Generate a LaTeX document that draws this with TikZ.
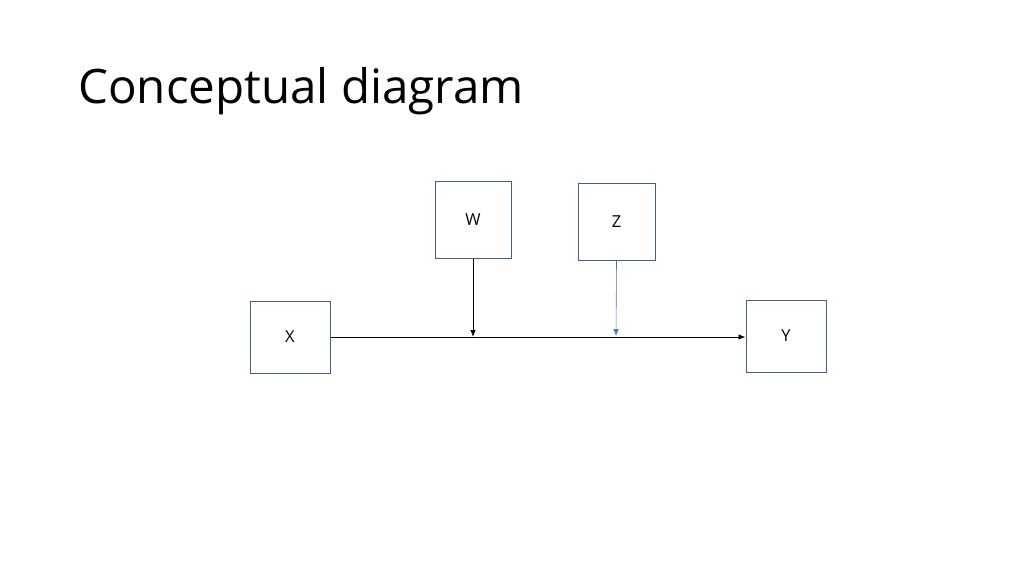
\documentclass[tikz,border=0pt]{standalone}
\usepackage{fontspec}
\setmainfont{Open Sans}
\usetikzlibrary{arrows.meta}
\definecolor{boxblue}{RGB}{66,92,148}
\definecolor{linkblue}{RGB}{68,114,196}
\begin{document}
\begin{tikzpicture}[x=1pt, y=-1pt,
    every node/.style={font=\fontsize{16.5}{19}\selectfont},
    var/.style={draw=boxblue, line width=1pt, inner sep=0pt},
    link/.style={-{Latex[length=7pt,width=5.5pt]}, line width=0.8pt}]
        \useasboundingbox (0,0) rectangle (1024,575);

        % Titel
        \node[anchor=base west, inner sep=0pt, font=\fontsize{47.5}{57}\selectfont] (title) at (78,103) {Conceptual diagram};

        % Variablen
        \node[var, minimum width=80pt, minimum height=72pt] (X) at (290,337) {\raisebox{-1.5pt}{X}};
        \node[var, minimum width=80pt, minimum height=72pt] (Y) at (786,336) {\raisebox{-2pt}{Y}};
        \node[var, minimum width=76pt, minimum height=77pt] (W) at (473,219.5) {\raisebox{-1.5pt}{W}};
        \node[var, minimum width=77pt, minimum height=77pt] (Z) at (616.5,221.5) {\raisebox{-2pt}{Z}};

        % Punkte auf der Linie X -> Y
        \coordinate (wend) at (473,337);
        \coordinate (zend) at (616,336);

        % Pfeile
        \draw[link] (X.east |- 0,337) -- (Y.west |- 0,337);
        \draw[link] (W.south) -- (wend);
        \draw[link, linkblue, line width=0.6pt] (Z.south) -- (zend);
    \end{tikzpicture}
\end{document}
